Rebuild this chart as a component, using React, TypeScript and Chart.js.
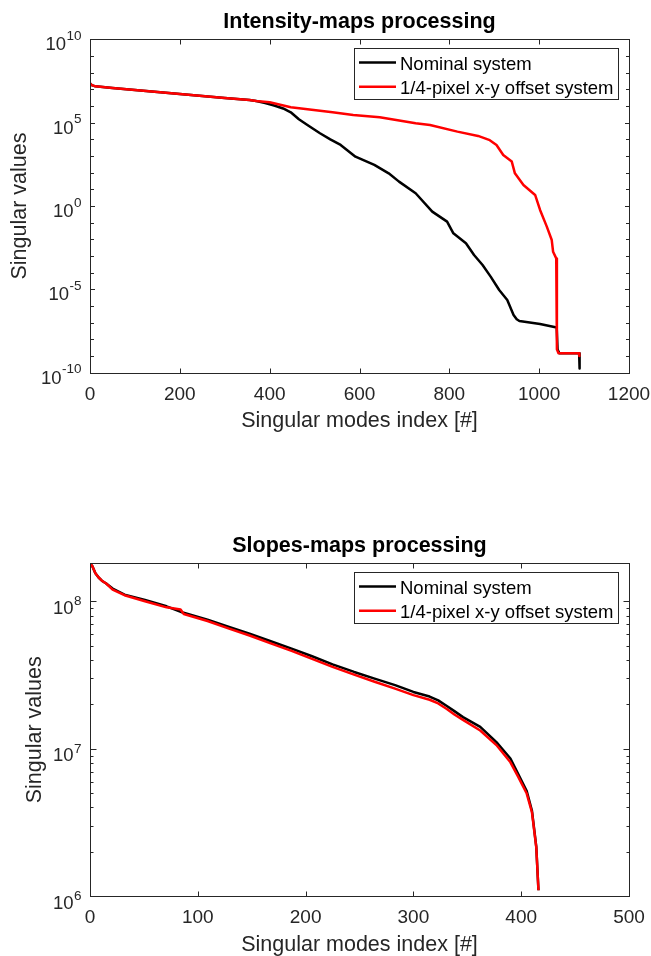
import { useEffect, useRef } from "react";
import { Chart, registerables } from "chart.js";

Chart.register(...registerables);

// ---------- shared ----------
const legendLabels = ["Nominal system", "1/4-pixel x-y offset system"];
const seriesColors = ["#000000", "#ff0000"];
const xAxisTitle = "Singular modes index [#]";
const yAxisTitle = "Singular values";

// ---------- Intensity-maps chart ----------
const intensityTitle = "Intensity-maps processing";
const intensityXTicks = [0, 200, 400, 600, 800, 1000, 1200];
const intensityYTickValues = [1e-10, 1e-5, 1, 1e5, 1e10];
const intensityYTickExponents = ["-10", "-5", "0", "5", "10"];

const intensityNominalIdx = [
  0, 4, 12, 50, 100, 150, 200, 250, 300, 355, 370, 390, 410, 430, 447, 465, 484, 512, 535, 558, 591, 633,
  665, 688, 725, 762, 795, 809, 837, 855, 874, 892, 911, 929, 943, 950, 956, 1002, 1039, 1041, 1045, 1089, 1090,
];
const intensityNominalVal = [
  2.3e7, 1.78e7, 1.51e7, 1.2e7, 9.1e6, 6.9e6, 5.2e6, 4.0e6, 3.0e6, 2.3e6, 2.0e6, 1.51e6, 1.07e6, 7.1e5, 4.2e5,
  1.6e5, 7.2e4, 2.3e4, 1.0e4, 4.6e3, 910, 290, 91, 29, 5.8, 0.46, 0.115, 0.023, 5.8e-3, 1.15e-3, 2.9e-4, 5.8e-5,
  9.1e-6, 2.3e-6, 2.9e-7, 1.6e-7, 1.26e-7, 8.3e-8, 5.2e-8, 2.5e-9, 1.45e-9, 1.45e-9, 1.8e-10,
];

const intensityOffsetIdx = [
  0, 4, 12, 50, 100, 150, 200, 250, 300, 355, 370, 400, 447, 540, 586, 645, 725, 757, 818, 864, 890, 905, 920,
  939, 946, 965, 991, 1002, 1017, 1028, 1031, 1038, 1039.5, 1043, 1089, 1089.5,
];
const intensityOffsetVal = [
  2.3e7, 1.78e7, 1.51e7, 1.2e7, 9.1e6, 6.9e6, 5.2e6, 4.0e6, 3.0e6, 2.3e6, 2.0e6, 1.66e6, 8.3e5, 4.2e5, 2.9e5,
  2.1e5, 9.3e4, 7.2e4, 2.9e4, 1.6e4, 8.9e3, 4.6e3, 1.15e3, 460, 91, 18, 4.6, 0.58, 0.058, 9.1e-3, 1.8e-3, 7.2e-4,
  2.5e-9, 1.45e-9, 1.45e-9, 1.0e-9,
];

// ---------- Slopes-maps chart ----------
const slopesTitle = "Slopes-maps processing";
const slopesXTicks = [0, 100, 200, 300, 400, 500];
const slopesYTickValues = [1e6, 1e7, 1e8];
const slopesYTickExponents = ["6", "7", "8"];

const slopesNominalIdx = [
  0, 2, 5, 8, 11, 15, 21, 32, 51, 71, 86, 109, 129, 148, 167, 187, 206, 225, 245, 264, 283, 300, 315, 323, 331,
  338, 346, 362, 377, 390, 397, 405, 410, 414, 416,
];
const slopesNominalVal = [
  1.8e8, 1.74e8, 1.55e8, 1.45e8, 1.38e8, 1.32e8, 1.22e8, 1.11e8, 1.02e8, 9.25e7, 8.4e7, 7.5e7, 6.7e7, 6.04e7,
  5.38e7, 4.78e7, 4.24e7, 3.74e7, 3.32e7, 2.99e7, 2.7e7, 2.43e7, 2.26e7, 2.13e7, 1.95e7, 1.8e7, 1.64e7, 1.41e7,
  1.11e7, 8.6e6, 6.8e6, 5.2e6, 3.8e6, 2.16e6, 1.1e6,
];

const slopesOffsetIdx = [
  0, 2, 5, 8, 11, 15, 21, 32, 51, 71, 84, 87, 109, 129, 148, 167, 187, 206, 225, 245, 264, 283, 300, 315, 323,
  331, 338, 346, 362, 377, 390, 397, 405, 410, 414, 416,
];
const slopesOffsetVal = [
  1.8e8, 1.74e8, 1.55e8, 1.45e8, 1.38e8, 1.32e8, 1.2e8, 1.1e8, 1.0e8, 9.1e7, 8.8e7, 8.2e7, 7.35e7, 6.53e7,
  5.86e7, 5.21e7, 4.61e7, 4.07e7, 3.59e7, 3.18e7, 2.85e7, 2.56e7, 2.31e7, 2.15e7, 2.03e7, 1.86e7, 1.71e7,
  1.57e7, 1.33e7, 1.06e7, 8.1e6, 6.5e6, 5.0e6, 3.7e6, 2.14e6, 1.1e6,
];

const FONT = '"Liberation Sans", Arial, Helvetica, sans-serif';
const AXIS_COLOR = "#262626";

type Spec = {
  title: string;
  xMax: number;
  yMin: number;
  yMax: number;
  xTicks: number[];
  yTickValues: number[];
  yTickExponents: string[];
  yMinorTicks: number[];
  majorLen: number;
  minorLen: number;
  baseDy: number;
  supDy: number;
  yTitleX: number;
  padding: { left: number; right: number; top: number; bottom: number };
  series: { idx: number[]; val: number[] }[];
};

function toXY(idx: number[], val: number[]) {
  return idx.map((x, i) => ({ x, y: val[i] }));
}

function decadeTicks(minExp: number, maxExp: number) {
  const out: number[] = [];
  for (let e = minExp; e <= maxExp; e++) out.push(Number("1e" + e));
  return out;
}

function subDecadeTicks(minExp: number, maxExp: number, max: number) {
  const out: number[] = [];
  for (let e = minExp; e <= maxExp; e++) {
    for (let m = 2; m <= 9; m++) {
      const v = m * Number("1e" + e);
      if (v <= max) out.push(v);
    }
  }
  return out;
}

function axesPlugin(spec: Spec) {
  return {
    id: "matlabAxes",
    afterDraw(chart: any) {
      const ctx: CanvasRenderingContext2D = chart.ctx;
      const { left, right, top, bottom } = chart.chartArea;
      const xs = chart.scales.x;
      const ys = chart.scales.y;
      const L = Math.round(left) + 0.5;
      const R = Math.round(right) + 0.5;
      const T = Math.round(top) + 0.5;
      const B = Math.round(bottom) + 0.5;
      ctx.save();

      // box
      ctx.strokeStyle = AXIS_COLOR;
      ctx.lineWidth = 1;
      ctx.strokeRect(L, T, R - L, B - T);

      // x ticks (inward, top and bottom)
      ctx.beginPath();
      for (const v of spec.xTicks) {
        const px = Math.round(xs.getPixelForValue(v)) + 0.5;
        ctx.moveTo(px, B);
        ctx.lineTo(px, B - 5);
        ctx.moveTo(px, T);
        ctx.lineTo(px, T + 5);
      }
      // y major ticks
      for (const v of spec.yTickValues) {
        const py = Math.round(ys.getPixelForValue(v)) + 0.5;
        ctx.moveTo(L, py);
        ctx.lineTo(L + spec.majorLen, py);
        ctx.moveTo(R, py);
        ctx.lineTo(R - spec.majorLen, py);
      }
      for (const v of spec.yMinorTicks) {
        if (spec.yTickValues.includes(v)) continue;
        const py = Math.round(ys.getPixelForValue(v)) + 0.5;
        ctx.moveTo(L, py);
        ctx.lineTo(L + spec.minorLen, py);
        ctx.moveTo(R, py);
        ctx.lineTo(R - spec.minorLen, py);
      }
      ctx.stroke();

      // x tick labels
      ctx.fillStyle = AXIS_COLOR;
      ctx.font = `19px ${FONT}`;
      ctx.textAlign = "center";
      ctx.textBaseline = "alphabetic";
      for (const v of spec.xTicks) {
        ctx.fillText(String(v), xs.getPixelForValue(v), bottom + 27);
      }

      // y tick labels with superscripts
      const labelRight = left - 8.5;
      for (let i = 0; i < spec.yTickValues.length; i++) {
        const py = ys.getPixelForValue(spec.yTickValues[i]);
        const exp = spec.yTickExponents[i];
        ctx.textAlign = "right";
        ctx.font = `13.5px ${FONT}`;
        const ew = ctx.measureText(exp).width;
        ctx.fillText(exp, labelRight, py + spec.baseDy + spec.supDy);
        ctx.font = `18.5px ${FONT}`;
        ctx.fillText("10", labelRight - ew - 0.5, py + spec.baseDy);
      }

      // axis titles
      ctx.font = `21.5px ${FONT}`;
      ctx.textAlign = "center";
      ctx.fillText(xAxisTitle, (left + right) / 2, bottom + 54.5);
      ctx.save();
      ctx.translate(spec.yTitleX, (top + bottom) / 2);
      ctx.rotate(-Math.PI / 2);
      ctx.fillText(yAxisTitle, 0, 0);
      ctx.restore();

      // title
      ctx.fillStyle = "#000000";
      ctx.font = `bold 21.5px ${FONT}`;
      ctx.textAlign = "center";
      ctx.fillText(spec.title, (left + right) / 2, top - 11);

      // legend
      const bx = 354.5;
      const by = Math.round(top + 9) + 0.5;
      const bw = 264;
      const bh = 51;
      ctx.fillStyle = "#ffffff";
      ctx.fillRect(bx, by, bw, bh);
      ctx.strokeStyle = AXIS_COLOR;
      ctx.lineWidth = 1;
      ctx.strokeRect(bx, by, bw, bh);
      const rows = [top + 23.2, top + 47.4];
      for (let i = 0; i < legendLabels.length; i++) {
        ctx.strokeStyle = seriesColors[i];
        ctx.lineWidth = 2.5;
        ctx.beginPath();
        ctx.moveTo(359, rows[i]);
        ctx.lineTo(396, rows[i]);
        ctx.stroke();
        ctx.fillStyle = "#000000";
        ctx.font = `18.5px ${FONT}`;
        ctx.textAlign = "left";
        ctx.fillText(legendLabels[i], 400, rows[i] + 7.3);
      }
      ctx.restore();
    },
  };
}

function ChartPanel({ spec, top }: { spec: Spec; top: number }) {
  const ref = useRef<HTMLCanvasElement | null>(null);
  useEffect(() => {
    const canvas = ref.current;
    if (!canvas) return;
    const chart = new Chart(canvas, {
      type: "line",
      data: {
        datasets: spec.series.map((s, i) => ({
          label: legendLabels[i],
          data: toXY(s.idx, s.val),
          borderColor: seriesColors[i],
          backgroundColor: seriesColors[i],
          borderWidth: 2.5,
          pointRadius: 0,
          tension: 0,
          fill: false,
          borderJoinStyle: "round" as const,
          order: i === 0 ? 2 : 1,
        })),
      },
      options: {
        animation: false,
        responsive: false,
        events: [],
        layout: { padding: spec.padding },
        scales: {
          x: { type: "linear", min: 0, max: spec.xMax, display: false },
          y: { type: "logarithmic", min: spec.yMin, max: spec.yMax, display: false },
        },
        plugins: {
          legend: { display: false },
          title: { display: false },
          tooltip: { enabled: false },
        },
      },
      plugins: [axesPlugin(spec)],
    } as any);
    return () => chart.destroy();
  }, [spec]);
  return (
    <canvas
      ref={ref}
      width={651}
      height={478}
      style={{ position: "absolute", left: 0, top, width: 651, height: 478, display: "block" }}
    />
  );
}

const intensitySpec: Spec = {
  title: intensityTitle,
  xMax: 1200,
  yMin: 1e-10,
  yMax: 1e10,
  xTicks: intensityXTicks,
  yTickValues: intensityYTickValues,
  yTickExponents: intensityYTickExponents,
  yMinorTicks: decadeTicks(-10, 10),
  majorLen: 4.5,
  minorLen: 3.5,
  baseDy: 11,
  supDy: -10.5,
  yTitleX: 26,
  padding: { left: 90, right: 22, top: 39.3, bottom: 105.3 },
  series: [
    { idx: intensityNominalIdx, val: intensityNominalVal },
    { idx: intensityOffsetIdx, val: intensityOffsetVal },
  ],
};

const slopesSpec: Spec = {
  title: slopesTitle,
  xMax: 500,
  yMin: 1e6,
  yMax: 1.81e8,
  xTicks: slopesXTicks,
  yTickValues: slopesYTickValues,
  yTickExponents: slopesYTickExponents,
  yMinorTicks: subDecadeTicks(6, 8, 1.81e8),
  majorLen: 6,
  minorLen: 3,
  baseDy: 12.5,
  supDy: -8.5,
  yTitleX: 40.7,
  padding: { left: 90, right: 22, top: 85.3, bottom: 59.7 },
  series: [
    { idx: slopesNominalIdx, val: slopesNominalVal },
    { idx: slopesOffsetIdx, val: slopesOffsetVal },
  ],
};

export default function App() {
  return (
    <div style={{ position: "absolute", left: 0, top: 0, width: 651, height: 956, background: "#ffffff" }}>
      <ChartPanel spec={intensitySpec} top={0} />
      <ChartPanel spec={slopesSpec} top={478} />
    </div>
  );
}
